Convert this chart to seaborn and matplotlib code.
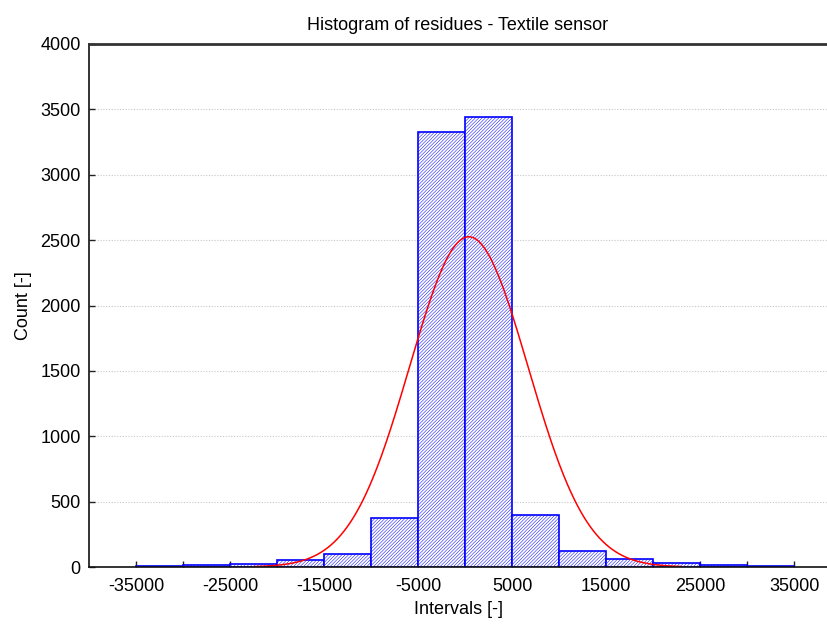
import numpy as np
import pandas as pd
import matplotlib
matplotlib.use("Agg")
import matplotlib.pyplot as plt
import seaborn as sns

# ---- data ----
bin_edges = [-35000, -30000, -25000, -20000, -15000, -10000, -5000, 0,
             5000, 10000, 15000, 20000, 25000, 30000, 35000]
counts = [5, 12, 25, 54, 102, 372, 3325, 3445, 395, 123, 62, 31, 18, 8]
fit_mean = 400.0
fit_sigma = 6300.0
curve_range = (-22500, 23000)
x_ticks_major = [-35000, -25000, -15000, -5000, 5000, 15000, 25000, 35000]
x_ticks_minor = [-30000, -20000, -10000, 0, 10000, 20000, 30000]
y_ticks = [0, 500, 1000, 1500, 2000, 2500, 3000, 3500, 4000]

sns.set_style("white")
plt.rcParams['font.family'] = ['Liberation Sans', 'DejaVu Sans']
plt.rcParams['hatch.linewidth'] = 0.35
plt.rcParams['text.color'] = 'black'
plt.rcParams['axes.labelcolor'] = 'black'
plt.rcParams['xtick.color'] = 'black'
plt.rcParams['ytick.color'] = 'black'

centers = [(bin_edges[i] + bin_edges[i + 1]) / 2 for i in range(len(counts))]
df = pd.DataFrame({"x": centers, "w": counts})

fig = plt.figure(figsize=(8.27, 6.26), dpi=100)
ax = fig.add_axes([89 / 827, 1 - 567 / 626, 1 - 89 / 827, (567 - 44) / 626])

hatch = "/" * 10
sns.histplot(data=df, x="x", weights="w", bins=bin_edges, ax=ax,
             color="white", edgecolor="#0000ff", linewidth=1.2, alpha=1.0)
for p in ax.patches:
    p.set_hatch(hatch)
    p.set_edgecolor("#0000ff")
    p.set_facecolor("white")

# normal fit curve
total = sum(counts)
bw = bin_edges[1] - bin_edges[0]
xs = np.linspace(curve_range[0], curve_range[1], 400)
ys = total * bw / (fit_sigma * np.sqrt(2 * np.pi)) * np.exp(-0.5 * ((xs - fit_mean) / fit_sigma) ** 2)
sns.lineplot(x=xs, y=ys, ax=ax, color="#ff0000", linewidth=1.1)

ax.set_xlim(-40000, 38500)
ax.set_ylim(0, 4000)
ax.set_xticks(x_ticks_major)
ax.set_xticks(x_ticks_minor, minor=True)
ax.set_yticks(y_ticks)
ax.set_xticklabels([str(t) for t in x_ticks_major], fontsize=13)
ax.set_yticklabels([str(t) for t in y_ticks], fontsize=13)
ax.tick_params(axis="both", which="both", direction="in", length=4, width=1,
               bottom=True, left=True, color="#222222", pad=6)
ax.tick_params(axis="x", which="major", pad=8)

for yv in y_ticks[1:-1]:
    ax.axhline(yv, color="#c8c8c8", linestyle=(0, (1, 1.5)), linewidth=0.8, zorder=0)

for s in ["left", "bottom"]:
    ax.spines[s].set_color("#111111")
    ax.spines[s].set_linewidth(1.2)
ax.spines["top"].set_color("#333333")
ax.spines["top"].set_linewidth(2.0)
ax.spines["right"].set_visible(False)

ax.set_title("Histogram of residues - Textile sensor", fontsize=13, pad=10)
ax.set_xlabel("Intervals [-]", fontsize=13, labelpad=4)
ax.set_ylabel("Count [-]", fontsize=13, labelpad=6)

fig.savefig("out.png", dpi=100)
